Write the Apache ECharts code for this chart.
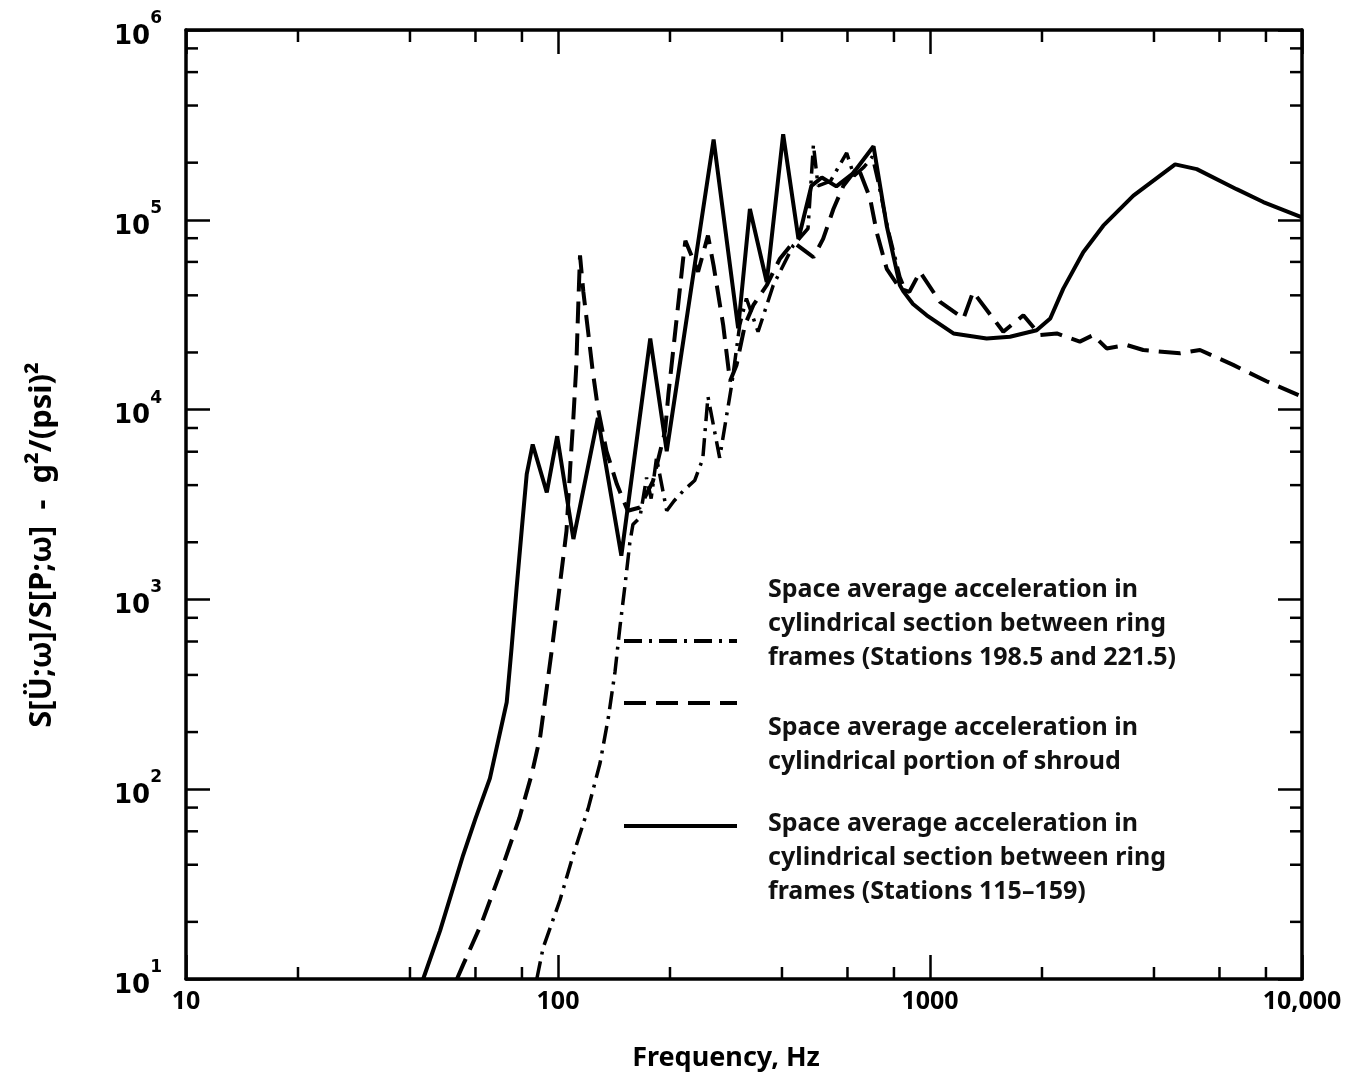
<!DOCTYPE html>
<html>
<head>
<meta charset="utf-8">
<script src="https://cdn.jsdelivr.net/npm/echarts@6/dist/echarts.min.js"></script>
<style>
  html, body { margin: 0; padding: 0; background: #fff; }
  #chart { width: 1354px; height: 1077px; }
</style>
</head>
<body>
<div id="chart"></div>
<script>
// [frequency Hz, S ratio]
var stations198 = [
  [87.7, 10], [91.2, 14.6], [101.2, 26], [110, 45.4], [120.5, 79], [129.7, 137], [136.6, 239],
  [142.3, 415], [146.8, 721], [151.5, 1200], [156, 1990], [159, 2480], [166, 2700], [173, 4380],
  [178, 3400], [184, 5570], [196, 2930], [205, 3300], [217, 3730], [233, 4230], [245, 5500],
  [253, 11700], [272, 5570], [293, 13500], [308, 27900], [321, 38500], [345, 25700], [379, 45200],
  [429, 73300], [470, 90000], [486, 249000], [500, 151000], [540, 160000], [597, 225000],
  [625, 170000], [665, 190000], [700, 215000], [730, 150000], [770, 90000], [830, 50000], [870, 40000]
];
var shroud = [
  [53.5, 10], [55.6, 11.9], [62.4, 19.8], [70.2, 36.9], [78.7, 70.3], [85, 120], [89.6, 190],
  [96.6, 573], [101.2, 1200], [105.4, 2290], [108, 5200], [110, 9100], [112, 17000], [113.5, 38000],
  [114.6, 64900], [117, 41700], [120.5, 25700], [124, 15900], [128, 10200], [135, 6040], [144, 4040],
  [154, 2930], [166, 3050], [180, 4200], [194, 7700], [198, 12000], [208, 29000], [217, 62400],
  [220, 77600], [238, 53200], [253, 82600], [262, 57400], [278, 27900], [290, 14100], [302, 17200],
  [318, 27900], [335, 35500], [364, 45200], [395, 62400], [429, 76300], [466, 67500], [486, 63500],
  [516, 79300], [550, 114000], [585, 151000], [640, 190000], [690, 130000], [719, 85900], [765, 55200],
  [830, 43400], [880, 41700], [940, 53100], [1064, 36900], [1230, 30200], [1306, 41700], [1574, 25700],
  [1782, 31400], [1977, 24700], [2193, 25200], [2528, 22800], [2747, 24700], [2985, 21000],
  [3379, 21900], [3743, 20600], [4700, 19800], [5318, 20600], [6530, 17200], [8030, 14100], [10000, 11700]
];
var stations115 = [
  [43.4, 10], [48.2, 18], [55.6, 45], [60, 70], [65.6, 114], [72.8, 287], [75, 550], [77.4, 1150],
  [80, 2400], [82.4, 4570], [85.5, 6550], [93.3, 3660], [99.5, 7240], [110, 2080], [128, 9040],
  [148, 1700], [177, 23700], [196, 6040], [262, 265000], [305, 26800], [328, 114000], [364, 47000],
  [403, 282000], [443, 79300], [480, 151000], [512, 167000], [560, 150000], [620, 175000],
  [705, 244000], [765, 93000], [830, 45200], [850, 41700], [900, 36000], [980, 31400], [1156, 25200],
  [1420, 23700], [1641, 24200], [1935, 26200], [2105, 30200], [2282, 43400], [2582, 67500],
  [2923, 93100], [3522, 134000], [4560, 196000], [5213, 185000], [6670, 145000], [7870, 124000],
  [10000, 103000]
];

var seriesNames = ['Stations 198.5 and 221.5', 'Shroud', 'Stations 115-159'];
var legendText = [
  'Space average acceleration in\ncylindrical section between ring\nframes (Stations 198.5 and 221.5)',
  'Space average acceleration in\ncylindrical portion of shroud',
  'Space average acceleration in\ncylindrical section between ring\nframes (Stations 115\u2013159)'
];
var xTickLabels = ['10', '100', '1000', '10,000'];
var yTickExps = ['1', '2', '3', '4', '5', '6'];
var xMinorTicks = [20, 40, 60, 80, 200, 400, 600, 800, 2000, 4000, 6000, 8000];
var yMinorTicks = [20, 40, 60, 80, 200, 400, 600, 800, 2000, 4000, 6000, 8000,
  20000, 40000, 60000, 80000, 200000, 400000, 600000, 800000];

var chart = echarts.init(document.getElementById('chart'), null, { renderer: 'canvas' });

var ink = '#000';
var font = 'Noto Sans';
var axisLine = { show: true, lineStyle: { color: ink, width: 3.5 } };
var majorTick = { show: true, inside: true, length: 24, lineStyle: { color: ink, width: 2.5 } };

// legend keys only; the wrapped captions are placed as text next to them
function legendFor(i, top) {
  return {
    left: 622,
    top: top,
    padding: 0,
    itemWidth: 113,
    itemHeight: 14,
    data: [seriesNames[i]],
    formatter: function() { return ''; },
    selectedMode: false,
    itemStyle: { color: 'transparent', borderWidth: 0, opacity: 0 },
    lineStyle: { width: 4, color: ink }
  };
}

function caption(i, top) {
  return {
    type: 'text',
    left: 768,
    top: top,
    style: {
      text: legendText[i],
      font: 'bold 25px "' + font + '"',
      lineHeight: 34,
      fill: '#111'
    }
  };
}

function tickItem(axis) {
  return function(params, api) {
    var cs = params.coordSys;
    var lw = { stroke: ink, lineWidth: 2.5 };
    if (axis === 'x') {
      var px = api.coord([api.value(0), 10])[0];
      var yb = cs.y + cs.height;
      return { type: 'group', children: [
        { type: 'line', shape: { x1: px, y1: yb, x2: px, y2: yb - 12 }, style: lw },
        { type: 'line', shape: { x1: px, y1: cs.y, x2: px, y2: cs.y + 12 }, style: lw }
      ]};
    }
    var py = api.coord([10, api.value(1)])[1];
    var xr = cs.x + cs.width;
    return { type: 'group', children: [
      { type: 'line', shape: { x1: cs.x, y1: py, x2: cs.x + 12, y2: py }, style: lw },
      { type: 'line', shape: { x1: xr, y1: py, x2: xr - 12, y2: py }, style: lw }
    ]};
  };
}

var option = {
  backgroundColor: '#fff',
  animation: false,
  grid: { left: 186, right: 52, top: 30, bottom: 93 },
  legend: [legendFor(0, 634), legendFor(1, 696), legendFor(2, 819)],
  graphic: [
    caption(0, 573),
    caption(1, 711),
    caption(2, 807),
    {
      type: 'text',
      x: 42,
      y: 545,
      rotation: Math.PI / 2,
      style: {
        text: 'S[\u00dc;\u03c9]/S[P;\u03c9]  -  g\u00b2/(psi)\u00b2',
        font: 'bold 31px "' + font + '"',
        fill: ink,
        align: 'center',
        verticalAlign: 'middle'
      }
    }
  ],
  xAxis: [{
    type: 'log',
    min: 10,
    max: 10000,
    position: 'bottom',
    axisLine: axisLine,
    axisTick: majorTick,
    splitLine: { show: false },
    axisLabel: {
      margin: 10,
      fontFamily: font,
      fontWeight: 'bold',
      fontSize: 25,
      color: ink,
      formatter: function(v, i) { return xTickLabels[i]; }
    },
    name: 'Frequency, Hz',
    nameLocation: 'middle',
    nameGap: 66,
    nameTextStyle: { fontFamily: font, fontWeight: 'bold', fontSize: 27, color: ink, padding: [0, 36, 0, 0] }
  }, {
    type: 'log',
    min: 10,
    max: 10000,
    position: 'top',
    axisLine: axisLine,
    axisTick: majorTick,
    axisLabel: { show: false },
    splitLine: { show: false }
  }],
  yAxis: [{
    type: 'log',
    min: 10,
    max: 1000000,
    position: 'left',
    axisLine: axisLine,
    axisTick: majorTick,
    splitLine: { show: false },
    axisLabel: {
      margin: 24,
      formatter: function(v, i) { return '{b|10}{e|' + yTickExps[i] + '}'; },
      rich: {
        b: { fontFamily: 'DejaVu Sans', fontWeight: 'bold', fontSize: 26, color: ink, lineHeight: 40, verticalAlign: 'bottom' },
        e: { fontFamily: 'DejaVu Sans', fontWeight: 'bold', fontSize: 17, color: ink, lineHeight: 40, verticalAlign: 'top' }
      }
    }
  }, {
    type: 'log',
    min: 10,
    max: 1000000,
    position: 'right',
    axisLine: axisLine,
    axisTick: majorTick,
    axisLabel: { show: false },
    splitLine: { show: false }
  }],
  series: [{
    name: seriesNames[0],
    type: 'line',
    data: stations198,
    symbol: 'none',
    itemStyle: { color: ink },
    lineStyle: { color: ink, width: 3.5, type: [18, 7, 3, 7] }
  }, {
    name: seriesNames[1],
    type: 'line',
    data: shroud,
    symbol: 'none',
    itemStyle: { color: ink },
    lineStyle: { color: ink, width: 4, type: [22, 10] }
  }, {
    name: seriesNames[2],
    type: 'line',
    data: stations115,
    symbol: 'none',
    itemStyle: { color: ink },
    lineStyle: { color: ink, width: 4, type: 'solid' }
  }, {
    type: 'custom',
    renderItem: tickItem('x'),
    data: xMinorTicks.map(function(v) { return [v, 10]; }),
    clip: false,
    silent: true
  }, {
    type: 'custom',
    renderItem: tickItem('y'),
    data: yMinorTicks.map(function(v) { return [10, v]; }),
    clip: false,
    silent: true
  }]
};

chart.setOption(option);
</script>
</body>
</html>
